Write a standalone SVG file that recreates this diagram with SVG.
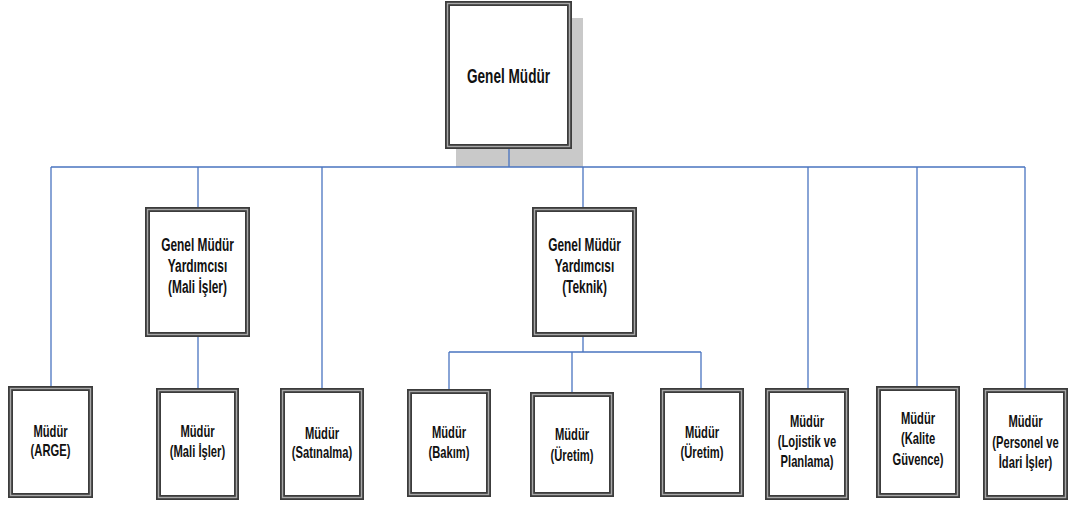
<svg xmlns="http://www.w3.org/2000/svg" width="1071" height="507" viewBox="0 0 1071 507">
<style>
.bx{fill:#fff;stroke:#3c3c3c;stroke-width:5}
.bi{fill:none;stroke:#a8a8a8;stroke-width:1.4}
.sh{fill:#c9c9c9}
.t{font-family:"Liberation Sans",Arial,sans-serif;font-weight:bold;fill:#111;text-anchor:middle}
.t1{font-size:20px}
.t2{font-size:17.5px}
.t3{font-size:16px}
.c{fill:none;stroke:#4a74c0;stroke-width:1.3}
</style>
<rect width="1071" height="507" fill="#fff"/>
<rect class="sh" x="456" y="18" width="127" height="149"/>
<g id="connectors">
<path class="c" d="M509 149V167M51 167H1025M51 167V386M198 167V207M198 337V388M322 167V388M583 167V207M808 167V388M917 167V386M1025 167V388"/>
<path class="c" d="M583 337V352M449 352H701M449 352V389M572 352V392M701 352V388"/>
</g>
<g id="genel-mudur">
<rect class="bx" x="447.5" y="3.5" width="122" height="143"/><rect class="bi" x="447.5" y="3.5" width="122" height="143"/>
<text class="t t1" transform="translate(508.5 0) scale(0.68 1)"><tspan x="0" y="83">Genel Müdür</tspan></text>
</g>
<g id="gmy-mali">
<rect class="bx" x="147.5" y="209.5" width="100" height="125"/><rect class="bi" x="147.5" y="209.5" width="100" height="125"/>
<text class="t t2" transform="translate(197.5 0) scale(0.68 1)"><tspan x="0" y="251">Genel Müdür</tspan><tspan x="0" y="272">Yardımcısı</tspan><tspan x="0" y="293">(Mali İşler)</tspan></text>
</g>
<g id="gmy-teknik">
<rect class="bx" x="534.5" y="209.5" width="100" height="125"/><rect class="bi" x="534.5" y="209.5" width="100" height="125"/>
<text class="t t2" transform="translate(584.5 0) scale(0.68 1)"><tspan x="0" y="251">Genel Müdür</tspan><tspan x="0" y="272">Yardımcısı</tspan><tspan x="0" y="293">(Teknik)</tspan></text>
</g>
<g id="arge">
<rect class="bx" x="10.5" y="388.5" width="80" height="107"/><rect class="bi" x="10.5" y="388.5" width="80" height="107"/>
<text class="t t3" transform="translate(50.5 0) scale(0.7 1)"><tspan x="0" y="437">Müdür</tspan><tspan x="0" y="456">(ARGE)</tspan></text>
</g>
<g id="mali-isler">
<rect class="bx" x="158.5" y="390.5" width="78" height="107"/><rect class="bi" x="158.5" y="390.5" width="78" height="107"/>
<text class="t t3" transform="translate(197.5 0) scale(0.7 1)"><tspan x="0" y="437">Müdür</tspan><tspan x="0" y="457">(Mali İşler)</tspan></text>
</g>
<g id="satinalma">
<rect class="bx" x="282.5" y="390.5" width="79" height="107"/><rect class="bi" x="282.5" y="390.5" width="79" height="107"/>
<text class="t t3" transform="translate(322 0) scale(0.7 1)"><tspan x="0" y="439">Müdür</tspan><tspan x="0" y="458">(Satınalma)</tspan></text>
</g>
<g id="bakim">
<rect class="bx" x="409.5" y="391.5" width="79" height="103"/><rect class="bi" x="409.5" y="391.5" width="79" height="103"/>
<text class="t t3" transform="translate(449 0) scale(0.7 1)"><tspan x="0" y="438">Müdür</tspan><tspan x="0" y="458">(Bakım)</tspan></text>
</g>
<g id="uretim-1">
<rect class="bx" x="532.5" y="394.5" width="79" height="100"/><rect class="bi" x="532.5" y="394.5" width="79" height="100"/>
<text class="t t3" transform="translate(572 0) scale(0.7 1)"><tspan x="0" y="440">Müdür</tspan><tspan x="0" y="461">(Üretim)</tspan></text>
</g>
<g id="uretim-2">
<rect class="bx" x="662.5" y="390.5" width="79" height="104"/><rect class="bi" x="662.5" y="390.5" width="79" height="104"/>
<text class="t t3" transform="translate(702 0) scale(0.7 1)"><tspan x="0" y="438">Müdür</tspan><tspan x="0" y="458">(Üretim)</tspan></text>
</g>
<g id="lojistik">
<rect class="bx" x="767.5" y="390.5" width="79" height="107"/><rect class="bi" x="767.5" y="390.5" width="79" height="107"/>
<text class="t t3" transform="translate(807 0) scale(0.7 1)"><tspan x="0" y="427">Müdür</tspan><tspan x="0" y="447">(Lojistik ve</tspan><tspan x="0" y="467">Planlama)</tspan></text>
</g>
<g id="kalite">
<rect class="bx" x="878.5" y="388.5" width="79" height="107"/><rect class="bi" x="878.5" y="388.5" width="79" height="107"/>
<text class="t t3" transform="translate(918 0) scale(0.7 1)"><tspan x="0" y="424">Müdür</tspan><tspan x="0" y="444">(Kalite</tspan><tspan x="0" y="465">Güvence)</tspan></text>
</g>
<g id="personel">
<rect class="bx" x="985.5" y="390.5" width="80" height="107"/><rect class="bi" x="985.5" y="390.5" width="80" height="107"/>
<text class="t t3" transform="translate(1025.5 0) scale(0.7 1)"><tspan x="0" y="427">Müdür</tspan><tspan x="0" y="448">(Personel ve</tspan><tspan x="0" y="468">İdari İşler)</tspan></text>
</g>
</svg>
